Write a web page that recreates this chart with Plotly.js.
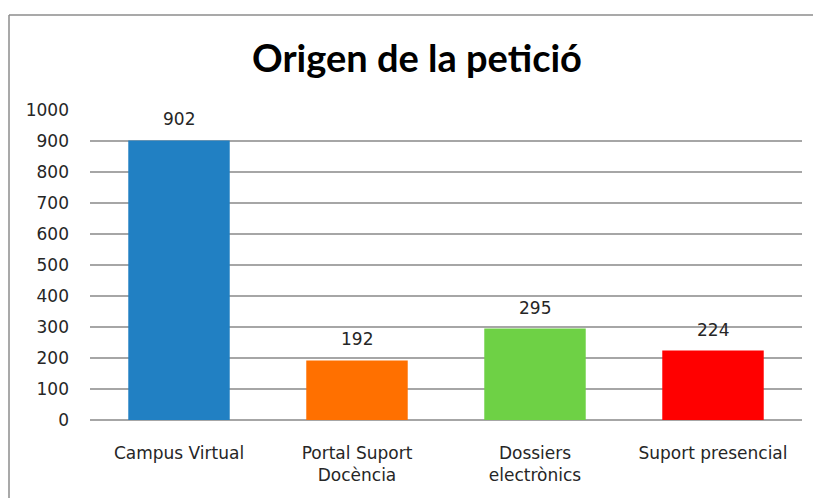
<!DOCTYPE html>
<html>
<head>
<meta charset="utf-8">
<script src="https://cdn.plot.ly/plotly-3.0.1.min.js"></script>
<style>html,body{margin:0;padding:0;background:#fff;}#chart{width:813px;height:498px;}</style>
</head>
<body>
<div id="chart"></div>
<script>
const categories = ["Campus Virtual", "Portal Suport<br>Docència", "Dossiers<br>electrònics", "Suport presencial"];
const values = [902, 192, 295, 224];
const colors = ["#2180C3", "#FF7000", "#6ED145", "#FF0000"];
const yTicks = [0, 100, 200, 300, 400, 500, 600, 700, 800, 900, 1000];

const FONT = "'DejaVu Sans', sans-serif";
const trace = {
  type: "bar",
  x: categories,
  y: values,
  marker: {color: colors},
  hoverinfo: "none"
};
const plotL = 90, plotR = 802, plotT = 110, plotB = 420;
const pw = plotR - plotL, ph = plotB - plotT;
const annotations = categories.map((c, i) => ({
  x: c, y: values[i], xref: "x", yref: "y",
  text: String(values[i]), showarrow: false,
  yanchor: "bottom", yshift: 9,
  font: {family: FONT, size: 17, color: "#262626"}
}));
const layout = {
  width: 813, height: 498,
  margin: {l: plotL, r: 813 - plotR, t: plotT, b: 498 - plotB},
  paper_bgcolor: "#fff", plot_bgcolor: "#fff",
  showlegend: false,
  bargap: 0.43,
  title: {text: "<b>Origen de la petició</b>", font: {family: "Lato, sans-serif", size: 38, color: "#000"}, x: 417/813, xref: "container", xanchor: "center", y: 1 - 59/498, yref: "container", yanchor: "middle"},
  xaxis: {type: "category", tickfont: {family: FONT, size: 17, color: "#262626"}, showline: false, ticks: "", showgrid: false, ticklabelstandoff: 21},
  yaxis: {range: [0, 1000], tickvals: yTicks, ticktext: yTicks.map(String), tickfont: {family: FONT, size: 17, color: "#262626"}, showgrid: true, gridcolor: "#a6a6a6", gridwidth: 1.5, zeroline: true, zerolinecolor: "#a6a6a6", zerolinewidth: 1.5, showline: false, ticks: "", ticklabelstandoff: 20},
  annotations: annotations,
  shapes: [
    {type: "line", xref: "paper", yref: "paper", x0: (9 - plotL)/pw, x1: (9 - plotL)/pw, y0: (plotB - 15)/ph, y1: (plotB - 520)/ph, line: {color: "#8c8c8c", width: 1.5}},
    {type: "line", xref: "paper", yref: "paper", x0: (9 - plotL)/pw, x1: (830 - plotL)/pw, y0: (plotB - 15)/ph, y1: (plotB - 15)/ph, line: {color: "#8c8c8c", width: 1.5}}
  ]
};
Plotly.newPlot("chart", [trace], layout, {displayModeBar: false, staticPlot: true});
</script>
</body>
</html>
